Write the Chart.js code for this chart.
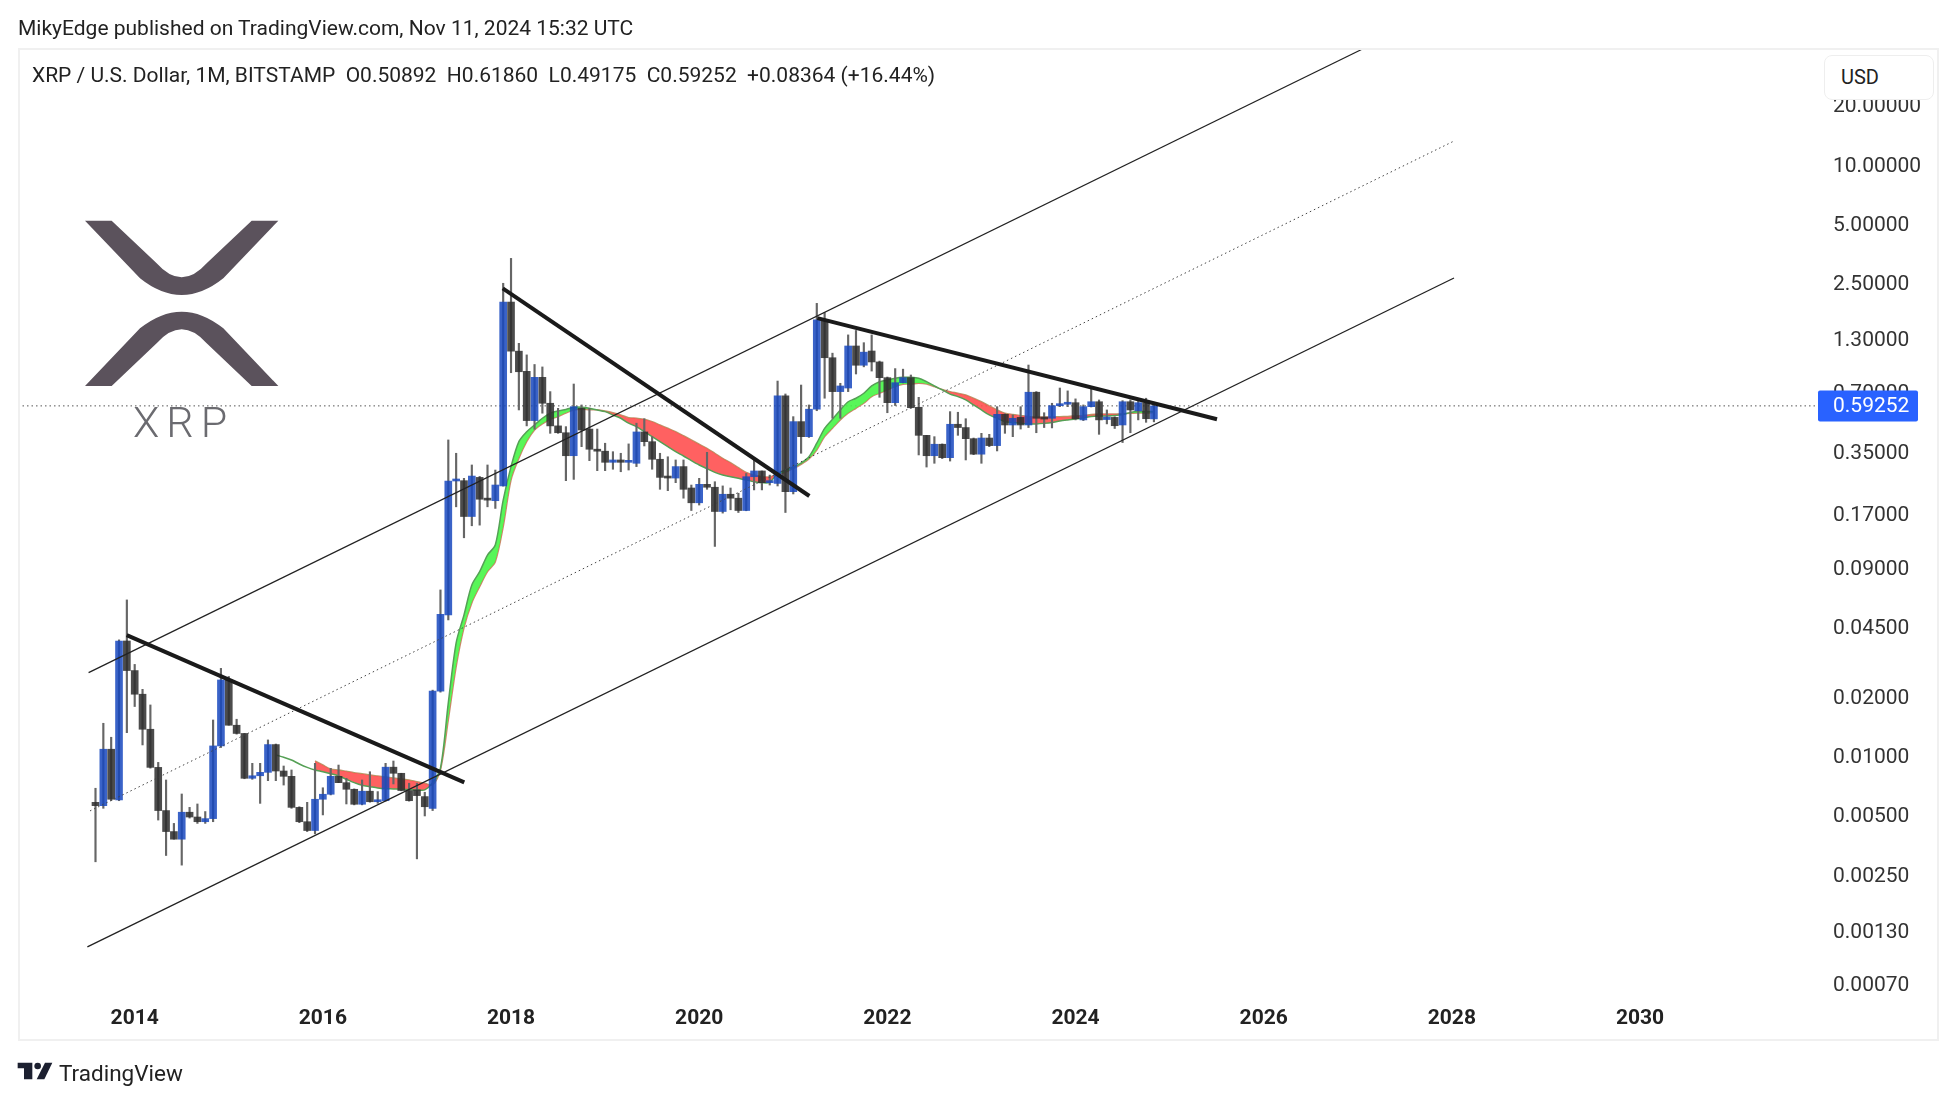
<!DOCTYPE html>
<html>
<head>
<meta charset="utf-8">
<title>XRP / U.S. Dollar</title>
<script src="https://cdn.jsdelivr.net/npm/chart.js@4"></script>
<style>
    html, body { margin: 0; padding: 0; background: #fff; font-family: Roboto, sans-serif; color: #222; overflow: hidden; }
    #wrap { position: relative; width: 1957px; height: 1102px; }
    canvas { position: absolute; left: 0; top: 0; }
    .abs { position: absolute; white-space: pre; }
    #frame { left: 18px; top: 48px; width: 1917px; height: 989px; border: 2px solid #f0f0f0; }
    #published { left: 18px; top: 15px; font-size: 21px; line-height: 26px; }
    #legend { left: 32px; top: 62px; font-size: 21px; line-height: 26px; }
    #usd { left: 1824px; top: 55px; width: 92px; height: 43px; padding-left: 16px; line-height: 43px; font-size: 20px;
           background: #fff; border: 1px solid #eee; border-radius: 8px; }
    #xrpText { left: 133px; top: 398px; font-size: 43px; line-height: 48px; font-weight: 300; color: #6b6b70; letter-spacing: 7px; }
    #tvText { left: 59px; top: 1059px; font-size: 22.5px; line-height: 28px; color: #222; }
</style>
</head>
<body>
<div id="wrap">
    <canvas id="myChart" width="1957" height="1102"></canvas>
    <div class="abs" id="frame"></div>
    <div class="abs" id="published">MikyEdge published on TradingView.com, Nov 11, 2024 15:32 UTC</div>
    <div class="abs" id="legend">XRP / U.S. Dollar, 1M, BITSTAMP  O0.50892  H0.61860  L0.49175  C0.59252  +0.08364 (+16.44%)</div>
    <div class="abs" id="usd">USD</div>
    <svg class="abs" style="left:60px;top:200px" width="260" height="260" viewBox="0 0 780 780">
        <path fill="#5b525c" d="M75 62 H155 L290 190 Q365 274 440 190 L575 62 H655 L490 235 Q365 335 240 235 Z"/>
        <path fill="#5b525c" d="M75 558 H155 L290 430 Q365 346 440 430 L575 558 H655 L490 385 Q365 285 240 385 Z"/>
    </svg>
    <div class="abs" id="xrpText">XRP</div>
    <svg class="abs" style="left:0;top:990px" width="500" height="112" viewBox="0 0 1500 336">
        <path fill="#1c2030" d="M53 218 H97 V268 H72 V235 H53 Z"/>
        <circle fill="#1c2030" cx="113" cy="228" r="10"/>
        <path fill="#1c2030" d="M110 268 L135 218 H157 L133 268 Z"/>
    </svg>
    <div class="abs" id="tvText">TradingView</div>
</div>
<script>
// monthly candles, Aug 2013 to Nov 2024
const firstCandle = 2013 + 7 / 12;
const opens = [.00577,.00555,.01073,.00593,.0380,.0269,.0204,.01355,.00868,.00524,.0041,.00375,.00514,.00486,.0046,.00477,.01115,.0241,.0142,.0129,.00764,.00787,.00819,.01133,.00832,.00782,.00544,.0046,.00415,.00598,.00634,.00782,.00726,.00672,.00564,.00657,.00581,.00588,.0087,.0081,.00662,.00667,.00617,.00538,.02115,.0515,.2464,.2473,.1627,.257,.1991,.1957,.2326,1.993,1.123,.887,.499,.827,.611,.469,.433,.331,.576,.452,.357,.349,.3065,.315,.3065,.303,.437,.39,.3175,.257,.255,.2915,.227,.191,.237,.229,.1725,.211,.2015,.1745,.259,.277,.2416,.2397,.6657,.2175,.493,.4135,.57,1.62,1.04,.70,.73,1.193,.9525,1.125,.99,.824,.615,.777,.824,.583,.42,.331,.3785,.3235,.478,.46,.404,.337,.407,.3725,.537,.474,.518,.474,.695,.5127,.5127,.594,.604,.615,.503,.587,.622,.505,.518,.474,.622,.56,.615,.50892];
const highs = [.0068,.01453,.01234,.0385,.0614,.0289,.0216,.018,.0092,.00749,.00451,.00636,.00544,.00566,.00518,.0151,.0276,.0251,.01523,.0129,.0091,.0091,.01196,.0114,.00882,.00842,.00548,.00577,.0091,.00684,.00858,.00892,.00764,.00675,.00749,.00825,.00654,.0091,.00935,.0081,.00721,.00721,.00649,.0214,.069,.398,.3406,.2541,.2971,.26,.2971,.28,2.482,3.32,1.231,1.075,.961,.934,.70,.576,.465,.765,.599,.576,.452,.383,.347,.3406,.38,.484,.51,.4135,.3406,.327,.315,.315,.235,.2541,.3445,.2443,.2326,.227,.2135,.269,.315,.277,.264,.792,.681,.5225,.756,.599,1.963,1.763,1.097,.7715,1.358,1.43,1.24,1.358,1.0,.83,.916,.91,.85,.655,.42,.4135,.38,.554,.55,.51,.407,.43,.425,.587,.54,.533,.587,.955,.70,.547,.611,.73,.706,.643,.599,.73,.635,.565,.522,.63,.635,.635,.648,.6186];
const lows = [.00288,.00538,.00588,.00588,.01302,.01767,.01128,.0086,.00469,.0031,.00375,.00277,.0048,.00451,.00451,.0046,.01095,.0142,.0128,.0076,.00755,.0057,.00743,.00743,.00706,.00538,.00455,.0041,.00399,.00498,.00629,.00726,.00566,.0056,.0056,.00578,.0057,.00585,.00715,.0066,.00585,.00298,.00492,.00524,.0209,.0486,.1822,.1269,.146,.1471,.1822,.1788,.232,.873,.565,.469,.451,.544,.43,.43,.2473,.251,.368,.3125,.278,.278,.2826,.2745,.28,.2915,.371,.2826,.2236,.22,.2416,.2015,.1745,.186,.2236,.1147,.1693,.176,.1705,.174,.222,.222,.235,.2324,.1705,.2118,.3406,.41,.56,.648,.5127,.5127,.70,.86,.935,.89,.655,.547,.595,.775,.576,.334,.29,.303,.32,.311,.42,.315,.335,.303,.368,.35,.43,.4135,.452,.46,.433,.46,.458,.587,.587,.503,.499,.585,.425,.48,.455,.386,.433,.503,.489,.49175];
const closes = [.00555,.01073,.00598,.038,.0269,.0204,.01355,.00868,.00524,.0041,.00375,.00514,.00486,.0046,.00477,.01115,.0241,.0142,.0129,.00764,.00787,.00819,.01133,.00832,.00782,.00544,.0046,.00415,.00598,.00634,.00782,.00726,.00672,.00564,.00657,.00581,.00588,.0087,.0081,.00662,.00588,.00624,.00548,.02115,.0519,.2464,.249,.1627,.261,.1991,.197,.2351,1.993,1.123,.883,.499,.827,.611,.469,.433,.331,.587,.447,.357,.349,.3065,.315,.3065,.308,.437,.39,.3175,.257,.255,.2915,.2236,.191,.237,.229,.1725,.211,.2015,.1745,.259,.277,.2416,.2443,.6657,.2175,.493,.4135,.57,1.62,1.04,.70,.7477,1.193,.9525,1.11,.99,.824,.615,.777,.824,.58,.42,.331,.3785,.3235,.478,.46,.404,.337,.407,.3725,.537,.474,.5127,.474,.695,.5127,.508,.594,.604,.615,.51,.587,.622,.503,.52,.47,.622,.565,.615,.51,.59252];

// ribbon lines, Jul 2015 to Nov 2024 (slow line starts Dec 2015)
const ribbonStart = 23;
const ribbonFast = [.01004,.00977,.00946,.00903,.00868,.00842,.00825,.00806,.00785,.00755,.00726,.00704,.00693,.00682,.00676,.00675,.00672,.0067,.00667,.00667,.00726,.00861,.01845,.0372,.0515,.0731,.0854,.1037,.117,.197,.2914,.39,.438,.474,.5127,.544,.558,.568,.583,.583,.576,.565,.554,.533,.5127,.484,.465,.438,.4135,.39,.368,.347,.33,.3125,.297,.2845,.2725,.264,.259,.2541,.2493,.2443,.2416,.2427,.269,.28,.29,.304,.327,.383,.456,.507,.565,.622,.648,.687,.7477,.786,.802,.8177,.827,.827,.818,.786,.7477,.714,.68,.66,.635,.599,.565,.533,.5127,.493,.488,.483,.48,.48,.483,.488,.497,.503,.508,.515,.524,.527,.527,.53,.536,.549,.555,.555,.555];
const ribbonSlow = [null,null,null,null,null,.00935,.00892,.00852,.00842,.00829,.00816,.00806,.00794,.00785,.00776,.00767,.00758,.00749,.00734,.00721,.00706,.00842,.0151,.0281,.0443,.0593,.0717,.0854,.096,.1443,.2493,.321,.39,.447,.48,.507,.5226,.545,.565,.57,.567,.566,.558,.547,.533,.5166,.5127,.507,.493,.474,.456,.438,.418,.398,.3785,.361,.3406,.321,.305,.288,.2725,.264,.259,.259,.265,.2725,.285,.2995,.319,.354,.4135,.456,.503,.544,.576,.611,.66,.687,.714,.742,.763,.765,.772,.765,.742,.717,.70,.687,.673,.648,.622,.592,.565,.544,.536,.53,.524,.52,.52,.52,.5226,.524,.527,.53,.536,.539,.539,.539,.541,.543,.545,.545,.549];

const priceTicks = [0.0007, 0.0013, 0.0025, 0.005, 0.01, 0.02, 0.045, 0.09, 0.17, 0.35, 0.7, 1.3, 2.5, 5, 10, 20];
const yearTicks = [2014, 2016, 2018, 2020, 2022, 2024, 2026, 2028, 2030];
const lastPrice = 0.59252;

// hand drawn lines: [year, price] at both ends
const channelUpper = [[2013.51, 0.02626], [2027.056, 38.46]];
const channelMiddle = [[2013.525, 0.00522], [2028.023, 13.08]];
const channelLower = [[2013.497, 0.001065], [2028.023, 2.64]];
const trendOne = [[2013.915, 0.0407], [2017.503, 0.00729]];
const trendTwo = [[2017.912, 2.341], [2021.171, 0.2068]];
const trendThree = [[2021.256, 1.652], [2025.504, 0.507]];

const xMin = 2012.7596;
const xMax = 2031.892;
const yMin = 0.000573;
const yMax = 38.78;

const BLUE = 'rgba(23, 72, 190, 0.85)';
const DARK = 'rgba(45, 45, 45, 0.85)';

const times = opens.map((o, i) => firstCandle + i / 12);
const ribbonTimes = ribbonFast.map((v, i) => times[i + ribbonStart]);
const colors = opens.map((o, i) => closes[i] >= o ? BLUE : DARK);

function drawnLine(ends, color, width, dash, order) {
    return {
        type: 'line',
        data: ends.map(p => ({ x: p[0], y: p[1] })),
        borderColor: color,
        borderWidth: width,
        borderDash: dash || [],
        pointRadius: 0,
        order: order
    };
}

const priceTag = {
    id: 'priceTag',
    afterDraw(chart) {
        const ctx = chart.ctx;
        const y = chart.scales.y.getPixelForValue(lastPrice);
        ctx.save();
        ctx.fillStyle = '#2962ff';
        ctx.beginPath();
        ctx.roundRect(1818, y - 15.5, 100, 31, 2);
        ctx.fill();
        ctx.fillStyle = '#fff';
        ctx.font = '21px Roboto';
        ctx.textBaseline = 'middle';
        ctx.textAlign = 'left';
        ctx.fillText(lastPrice.toFixed(5), 1833, y + 1);
        ctx.restore();
    }
};

const ctx = document.getElementById('myChart').getContext('2d');
Chart.defaults.font.family = 'Roboto';

window.myChart = new Chart(ctx, {
    type: 'bar',
    data: {
        datasets: [
            drawnLine([[xMin, lastPrice], [xMax, lastPrice]], '#555', 1, [1.5, 3], 9),
            {
                type: 'line',
                data: ribbonSlow.map((v, i) => ({ x: ribbonTimes[i], y: v })),
                borderColor: '#c88f70',
                borderWidth: 1.5,
                pointRadius: 0,
                tension: 0.3,
                order: 8
            },
            {
                type: 'line',
                data: ribbonFast.map((v, i) => ({ x: ribbonTimes[i], y: v })),
                borderColor: '#55a055',
                borderWidth: 1.5,
                pointRadius: 0,
                tension: 0.3,
                fill: { target: '-1', above: 'rgba(70, 245, 70, 0.9)', below: 'rgba(255, 80, 80, 0.9)' },
                order: 7
            },
            {
                data: times.map((t, i) => ({ x: t, y: [lows[i], highs[i]] })),
                backgroundColor: '#666',
                barThickness: 1.5,
                grouped: false,
                order: 6
            },
            {
                data: times.map((t, i) => ({ x: t, y: [Math.min(opens[i], closes[i]), Math.max(opens[i], closes[i])] })),
                backgroundColor: colors,
                barThickness: 7,
                minBarLength: 2,
                grouped: false,
                order: 5
            },
            drawnLine(channelMiddle, '#444', 1, [1.5, 3], 4),
            drawnLine(channelUpper, '#222', 1.3, null, 3),
            drawnLine(channelLower, '#222', 1.3, null, 3),
            drawnLine(trendOne, '#1a1a1a', 4, null, 1),
            drawnLine(trendTwo, '#1a1a1a', 4, null, 1),
            drawnLine(trendThree, '#1a1a1a', 4, null, 1)
        ]
    },
    options: {
        responsive: false,
        animation: false,
        events: [],
        layout: { padding: { left: 18, top: 48, right: 19, bottom: 62 } },
        plugins: { legend: { display: false }, tooltip: { enabled: false } },
        scales: {
            x: {
                type: 'linear',
                offset: false,
                min: xMin,
                max: xMax,
                grid: { display: false, drawTicks: false },
                border: { display: false },
                afterBuildTicks: scale => { scale.ticks = yearTicks.map(v => ({ value: v })); },
                afterFit: scale => { scale.height = 40; },
                ticks: {
                    autoSkip: false,
                    maxRotation: 0,
                    padding: 6,
                    color: '#222',
                    font: { size: 21, weight: 'bold' },
                    callback: v => String(v)
                }
            },
            y: {
                type: 'logarithmic',
                position: 'right',
                min: yMin,
                max: yMax,
                grid: { display: false, drawTicks: false },
                border: { display: false },
                afterBuildTicks: scale => { scale.ticks = priceTicks.map(v => ({ value: v })); },
                afterFit: scale => { scale.width = 120; },
                ticks: {
                    autoSkip: false,
                    padding: 15,
                    color: '#333',
                    // empty first line with a small line height moves the label a bit below the tick
                    font: { size: 21, lineHeight: '5px' },
                    callback: v => ['', Number(v).toFixed(5)]
                }
            }
        }
    },
    plugins: [priceTag]
});
</script>
</body>
</html>
